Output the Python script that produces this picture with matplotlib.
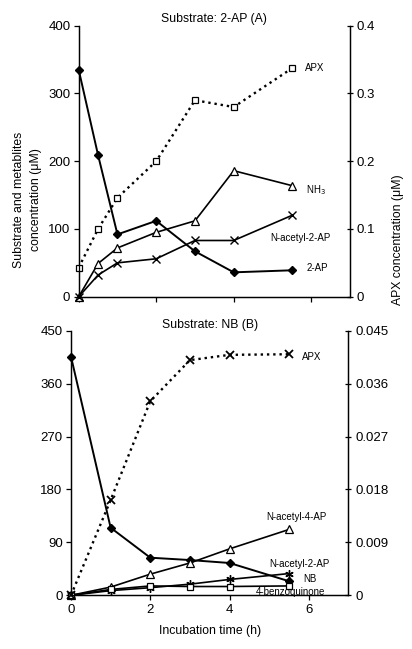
import numpy as np
import matplotlib
matplotlib.use("Agg")
import matplotlib.pyplot as plt

plt.rcParams['font.family'] = ['Liberation Sans', 'DejaVu Sans']

# panel A: substrate 2-AP
time_a = [0, 0.5, 1, 2, 3, 4, 5.5]
ap2_a = [335, 209, 92, 112, 67, 36, 39]
nh3_a = [0, 49, 72, 95, 112, 186, 164]
nac2_a = [0, 32, 50, 56, 83, 83, 120]
apx_a = [0.043, 0.100, 0.146, 0.200, 0.290, 0.280, 0.337]

# panel B: substrate NB
time_b = [0, 1, 2, 3, 4, 5.5]
nb_b = [406, 115, 64, 60, 55, 24]
nac4_b = [0, 14, 36, 55, 79, 112]
nac2_b = [0, 8, 13, 19, 27, 37]
bq_b = [0, 10, 16, 15, 15, 16]
apx_b = [0, 0.0162, 0.0330, 0.0400, 0.0409, 0.0410]

left_ticks_a = [0, 100, 200, 300, 400]
right_ticks_a = [0, 0.1, 0.2, 0.3, 0.4]
right_labels_a = ['0', '0.1', '0.2', '0.3', '0.4']
left_ticks_b = [0, 90, 180, 270, 360, 450]
right_ticks_b = [0, 0.009, 0.018, 0.027, 0.036, 0.045]
right_labels_b = ['0', '0.009', '0.018', '0.027', '0.036', '0.045']
x_ticks = [0, 2, 4, 6]

fs = 8.8   # titles, axis labels
ts = 9.5   # tick labels
ls = 7.0   # series labels
fig = plt.figure(figsize=(4.12, 6.49), dpi=100)


def style(ax, ax2):
    for a in (ax, ax2):
        a.spines['top'].set_visible(False)
        for s in a.spines.values():
            s.set_linewidth(0.9)
        a.tick_params(labelsize=ts, width=0.9, length=3.5, colors='black', pad=2.5)
    ax2.tick_params(direction='inout', length=5)
    ax.set_xlim(0, 7)
    ax.set_xticks(x_ticks)


# top panel
ax = fig.add_axes([0.191, 0.5428, 0.6585, 0.4176])
ax2 = ax.twinx()
style(ax, ax2)
ax.set_ylim(0, 400)
ax.set_yticks(left_ticks_a)
ax2.set_ylim(0, 0.4)
ax2.set_yticks(right_ticks_a)
ax2.set_yticklabels(right_labels_a)
ax.tick_params(axis='x', labelbottom=False)

ax.plot(time_a, ap2_a, '-D', color='black', lw=1.4, ms=4.5, clip_on=False, zorder=3)
ax.plot(time_a, nh3_a, '-^', color='black', lw=1.2, ms=5.5, mfc='white', mew=0.9, clip_on=False, zorder=3)
ax.plot(time_a, nac2_a, '-x', color='black', lw=1.2, ms=5.5, mew=1.0, clip_on=False, zorder=3)
ax2.plot(time_a, apx_a, ':s', color='black', lw=1.7, ms=5, mfc='white', mew=0.9, clip_on=False)

ax.text(5.84, 337, 'APX', fontsize=ls, va='center')
ax.text(5.87, 157, 'NH$_3$', fontsize=ls, va='center')
ax.text(5.71, 87, 'N-acetyl-2-AP', fontsize=ls, va='center', ha='center')
ax.text(5.87, 42, '2-AP', fontsize=ls, va='center')
ax.set_title('Substrate: 2-AP (A)', fontsize=fs, pad=3)

# bottom panel
bx = fig.add_axes([0.1723, 0.0827, 0.6735, 0.4077])
bx2 = bx.twinx()
style(bx, bx2)
bx.set_ylim(0, 450)
bx.set_yticks(left_ticks_b)
bx2.set_ylim(0, 0.045)
bx2.set_yticks(right_ticks_b)
bx2.set_yticklabels(right_labels_b)

bx.plot(time_b, nb_b, '-D', color='black', lw=1.4, ms=4.5, clip_on=False, zorder=3)
bx.plot(time_b, nac4_b, '-^', color='black', lw=1.2, ms=5.5, mfc='white', mew=0.9, clip_on=False, zorder=3)
bx.plot(time_b, nac2_b, '-', marker=(6, 2, 0), color='black', lw=1.2, ms=6, mew=1.0, clip_on=False, zorder=3)
bx.plot(time_b, bq_b, '-s', color='black', lw=1.2, ms=5, mfc='white', mew=0.9, clip_on=False, zorder=3)
bx2.plot(time_b, apx_b, ':x', color='black', lw=1.7, ms=6, mew=1.3, clip_on=False)

bx.text(5.83, 406, 'APX', fontsize=ls, va='center')
bx.text(5.69, 134, 'N-acetyl-4-AP', fontsize=ls, va='center', ha='center')
bx.text(5.75, 53, 'N-acetyl-2-AP', fontsize=ls, va='center', ha='center')
bx.text(6.02, 28, 'NB', fontsize=ls, va='center', ha='center')
bx.text(5.55, 6, '4-benzoquinone', fontsize=ls, va='center', ha='center')
bx.set_title('Substrate: NB (B)', fontsize=fs, pad=1)
bx.set_xlabel('Incubation time (h)', fontsize=fs, labelpad=7)

fig.text(0.067, 0.692, 'Substrate and metablites\nconcentration (\u03bcM)', rotation=90,
         fontsize=fs, ha='center', va='center', linespacing=1.5)
fig.text(0.966, 0.63, 'APX concentration (\u03bcM)', rotation=90,
         fontsize=fs, ha='center', va='center')

fig.savefig('out.png', dpi=100)
